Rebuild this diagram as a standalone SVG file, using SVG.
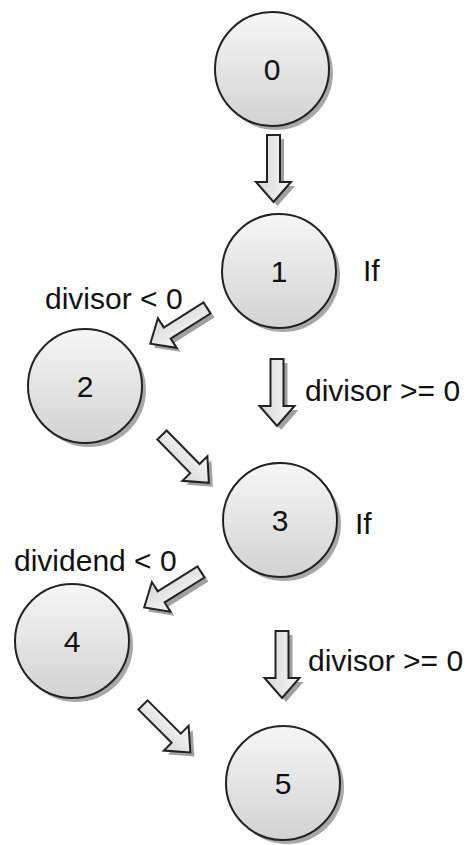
<svg xmlns="http://www.w3.org/2000/svg" xmlns:xlink="http://www.w3.org/1999/xlink" width="468" height="845" viewBox="0 0 468 845">
  <defs>
    <linearGradient id="nodeFill" x1="0" y1="0" x2="0" y2="1">
      <stop offset="0" stop-color="#f6f6f6"/>
      <stop offset="1" stop-color="#d2d2d2"/>
    </linearGradient>
    <linearGradient id="arrowFill" x1="0" y1="0" x2="0" y2="1">
      <stop offset="0" stop-color="#f8f8f8"/>
      <stop offset="1" stop-color="#d6d6d6"/>
    </linearGradient>
    <path id="arr" d="M0,-6.5 L47,-6.5 L47,-17.5 L67,0 L47,17.5 L47,6.5 L0,6.5 Z"/>
  </defs>
  <style>
    .node { fill: url(#nodeFill); stroke: #222; stroke-width: 2; }
    .shadow { fill: #a8a8a8; stroke: none; }
    .arrow { fill: url(#arrowFill); stroke: #222; stroke-width: 2; stroke-linejoin: miter; }
    .ashadow { fill: #a0a0a0; stroke: none; }
    text { font-family: "Liberation Sans", Arial, sans-serif; font-size: 30px; fill: #111; }
    .num { text-anchor: middle; }
  </style>

  <g id="connectors">
    <g id="e0-1">
      <use xlink:href="#arr" class="ashadow" transform="translate(277.5,139) rotate(90)"/>
      <use xlink:href="#arr" class="arrow" transform="translate(273.5,135) rotate(90)"/>
    </g>
    <g id="e1-2">
      <use xlink:href="#arr" class="ashadow" transform="translate(211,312) rotate(147.8)"/>
      <use xlink:href="#arr" class="arrow" transform="translate(207,308) rotate(147.8)"/>
    </g>
    <g id="e1-3">
      <use xlink:href="#arr" class="ashadow" transform="translate(281,363) rotate(90)"/>
      <use xlink:href="#arr" class="arrow" transform="translate(277,359) rotate(90)"/>
    </g>
    <g id="e2-3">
      <use xlink:href="#arr" class="ashadow" transform="translate(166,439) rotate(45.6)"/>
      <use xlink:href="#arr" class="arrow" transform="translate(162,435) rotate(45.6)"/>
    </g>
    <g id="e3-4">
      <use xlink:href="#arr" class="ashadow" transform="translate(205,576) rotate(148)"/>
      <use xlink:href="#arr" class="arrow" transform="translate(201,572) rotate(148)"/>
    </g>
    <g id="e3-5">
      <use xlink:href="#arr" class="ashadow" transform="translate(286,635) rotate(90)"/>
      <use xlink:href="#arr" class="arrow" transform="translate(282,631) rotate(90)"/>
    </g>
    <g id="e4-5">
      <use xlink:href="#arr" class="ashadow" transform="translate(147,709) rotate(45)"/>
      <use xlink:href="#arr" class="arrow" transform="translate(143,705) rotate(45)"/>
    </g>
  </g>

  <g id="node0">
    <circle class="shadow" cx="276" cy="73" r="57"/>
    <circle class="node" cx="272" cy="69" r="57"/>
    <text class="num" x="272" y="80">0</text>
  </g>
  <g id="node1">
    <circle class="shadow" cx="283" cy="275" r="57"/>
    <circle class="node" cx="279" cy="271" r="57"/>
    <text class="num" x="279" y="282">1</text>
  </g>
  <g id="node2">
    <circle class="shadow" cx="89" cy="390" r="57"/>
    <circle class="node" cx="85" cy="386" r="57"/>
    <text class="num" x="85" y="397">2</text>
  </g>
  <g id="node3">
    <circle class="shadow" cx="284" cy="524" r="57"/>
    <circle class="node" cx="280" cy="520" r="57"/>
    <text class="num" x="280" y="531">3</text>
  </g>
  <g id="node4">
    <circle class="shadow" cx="76" cy="645" r="57"/>
    <circle class="node" cx="72" cy="641" r="57"/>
    <text class="num" x="72" y="652">4</text>
  </g>
  <g id="node5">
    <circle class="shadow" cx="287" cy="787" r="57"/>
    <circle class="node" cx="283" cy="783" r="57"/>
    <text class="num" x="283" y="794">5</text>
  </g>

  <g id="labels">
    <text x="363" y="281">If</text>
    <text x="45" y="309">divisor &lt; 0</text>
    <text x="305" y="401">divisor &gt;= 0</text>
    <text x="355" y="534">If</text>
    <text x="14" y="571">dividend &lt; 0</text>
    <text x="308" y="671">divisor &gt;= 0</text>
  </g>
</svg>
